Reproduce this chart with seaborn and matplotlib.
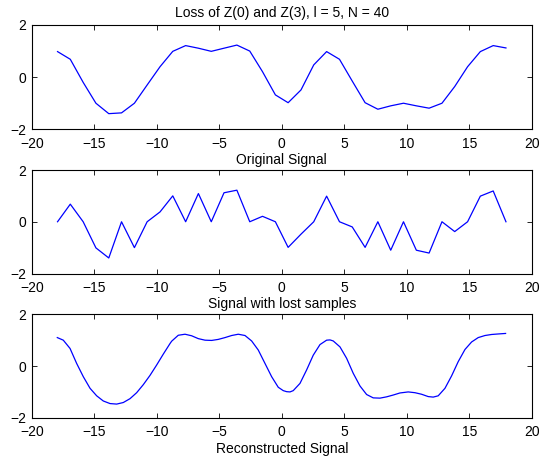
import numpy as np
import pandas as pd
import matplotlib
matplotlib.use("Agg")
import matplotlib.pyplot as plt
import seaborn as sns

title = "Loss of Z(0) and Z(3), l = 5, N = 40"
xlabels = ["Original Signal", "Signal with lost samples", "Reconstructed Signal"]
xticks = [-20, -15, -10, -5, 0, 5, 10, 15, 20]
yticks = [-2, 0, 2]

sample_x = [-17.94, -16.92, -15.89, -14.87, -13.84, -12.82, -11.79, -10.77, -9.74,
            -8.72, -7.69, -6.67, -5.64, -4.62, -3.59, -2.56, -1.54, -0.51, 0.51,
            1.54, 2.56, 3.59, 4.62, 5.64, 6.67, 7.69, 8.72, 9.74, 10.77, 11.79,
            12.82, 13.84, 14.87, 15.89, 16.92, 17.94]

original = [0.98, 0.685, -0.20, -1.00, -1.40, -1.37, -1.00, -0.30, 0.40, 0.99,
            1.21, 1.11, 0.99, 1.11, 1.23, 1.00, 0.21, -0.68, -0.98, -0.49,
            0.47, 0.98, 0.685, -0.15, -0.98, -1.23, -1.10, -1.00, -1.10, -1.19,
            -1.00, -0.36, 0.40, 0.98, 1.21, 1.12]

lost = [0.0, 0.68, 0.0, -1.01, -1.40, 0.0, -1.00, 0.0, 0.38, 1.00,
        0.0, 1.09, 0.0, 1.12, 1.22, 0.0, 0.21, 0.0, -0.99, -0.48,
        0.0, 0.99, 0.0, -0.20, -0.99, 0.0, -1.10, 0.0, -1.10, -1.21,
        0.0, -0.38, 0.0, 0.99, 1.19, 0.0]

recon_x = [-17.96, -17.48, -16.94, -16.41, -15.88, -15.34, -14.81, -14.28, -13.74,
           -13.21, -12.68, -12.14, -11.61, -11.08, -10.54, -10.01, -9.48, -8.94,
           -8.81, -8.28, -7.74, -7.21, -6.68, -6.14, -5.61, -5.08, -4.54, -4.01,
           -3.48, -2.94, -2.41, -1.88, -1.34, -0.81, -0.28, 0.12, 0.39, 0.66,
           0.92, 1.46, 1.99, 2.52, 3.06, 3.59, 3.86, 4.12, 4.66, 5.19, 5.72,
           6.26, 6.79, 7.32, 7.86, 8.39, 8.92, 9.46, 10.12, 10.66, 11.19, 11.72,
           12.12, 12.52, 13.06, 13.59, 14.12, 14.66, 15.19, 15.72, 16.26,
           16.79, 17.32, 17.91]
recon_y = [1.10, 1.00, 0.68, 0.10, -0.41, -0.86, -1.15, -1.35, -1.45,
           -1.47, -1.41, -1.26, -1.03, -0.72, -0.36, 0.04, 0.46, 0.87,
           0.96, 1.19, 1.23, 1.17, 1.06, 1.00, 0.99, 1.03, 1.10, 1.18,
           1.23, 1.18, 0.97, 0.62, 0.10, -0.41, -0.82, -0.95, -0.99, -1.00,
           -0.95, -0.67, -0.15, 0.42, 0.83, 1.00, 1.01, 0.97, 0.74, 0.30, -0.28,
           -0.77, -1.10, -1.23, -1.24, -1.19, -1.12, -1.04, -1.00, -1.03, -1.09,
           -1.18, -1.20, -1.15, -0.86, -0.38, 0.17, 0.64, 0.93, 1.10, 1.18,
           1.22, 1.24, 1.26]

plt.rcParams['font.family'] = ['Liberation Sans', 'DejaVu Sans']
plt.rcParams['font.size'] = 10

fig = plt.figure(figsize=(5.58, 4.68), dpi=100)
W, H = 558.0, 468.0
left = 31.8 / W
width = (531.7 - 31.8) / W
boxes = [(25.0, 129.3), (170.0, 273.5), (314.3, 417.8)]
series = [(sample_x, original), (sample_x, lost), (recon_x, recon_y)]

for i, ((top, bot), (xs, ys)) in enumerate(zip(boxes, series)):
    ax = fig.add_axes([left, 1 - bot / H, width, (bot - top) / H])
    df = pd.DataFrame({"x": xs, "y": ys})
    sns.lineplot(data=df, x="x", y="y", ax=ax, color=(0, 0, 1), linewidth=0.9,
                 sort=False, estimator=None)
    ax.set_xlim(-20, 20)
    ax.set_ylim(-2, 2)
    ax.set_xticks(xticks)
    ax.set_yticks(yticks)
    ax.tick_params(direction="in", length=3.5, width=0.6, top=True, right=True,
                   labelsize=10, colors="black")
    ax.tick_params(axis="x", pad=5.5)
    ax.tick_params(axis="y", pad=4)
    for s in ax.spines.values():
        s.set_linewidth(0.8)
        s.set_color("black")
    ax.set_xlabel(xlabels[i], fontsize=10, labelpad=1.5)
    ax.set_ylabel("")
    if i == 0:
        ax.set_title(title, fontsize=10, pad=6)

fig.savefig("out.png", dpi=100)
